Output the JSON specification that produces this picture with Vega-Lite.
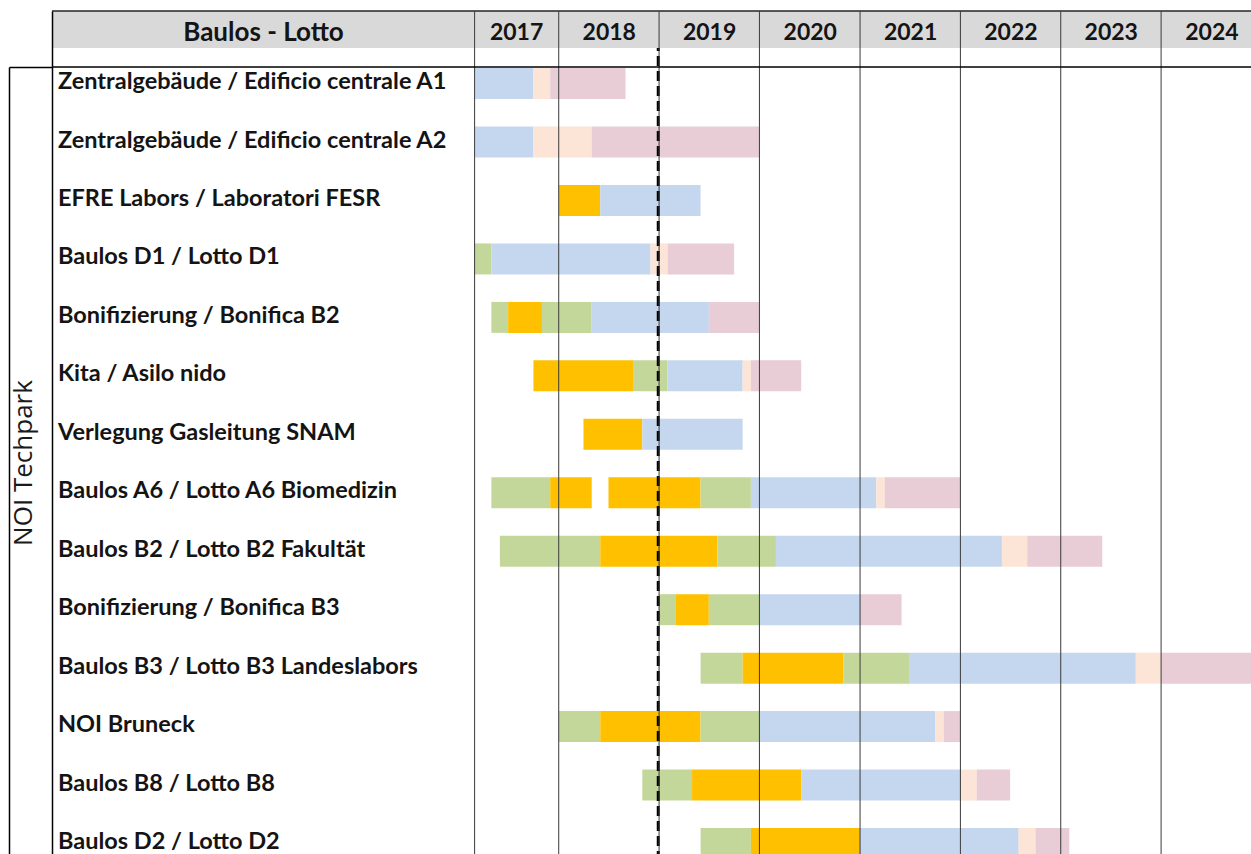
{
  "$schema": "https://vega.github.io/schema/vega-lite/v6.json",
  "autosize": {"type": "none"},
  "padding": {"left": 52, "top": 11, "right": 0, "bottom": 0},
  "width": 1199,
  "height": 843,
  "background": "white",
  "config": {"view": {"stroke": null}},
  "datasets": {
    "phasen": [
      {"baulos": "Zentralgebäude  / Edificio centrale A1", "phase": "Bauausführung", "beginn": "2017-03-01", "ende": "2017-10-01"},
      {"baulos": "Zentralgebäude  / Edificio centrale A1", "phase": "Abnahme", "beginn": "2017-10-01", "ende": "2017-12-01"},
      {"baulos": "Zentralgebäude  / Edificio centrale A1", "phase": "Übergabe", "beginn": "2017-12-01", "ende": "2018-09-01"},
      {"baulos": "Zentralgebäude / Edificio centrale A2", "phase": "Bauausführung", "beginn": "2017-03-01", "ende": "2017-10-01"},
      {"baulos": "Zentralgebäude / Edificio centrale A2", "phase": "Abnahme", "beginn": "2017-10-01", "ende": "2018-05-01"},
      {"baulos": "Zentralgebäude / Edificio centrale A2", "phase": "Übergabe", "beginn": "2018-05-01", "ende": "2020-01-01"},
      {"baulos": "EFRE Labors / Laboratori FESR", "phase": "Ausschreibung", "beginn": "2018-01-01", "ende": "2018-06-01"},
      {"baulos": "EFRE Labors / Laboratori FESR", "phase": "Bauausführung", "beginn": "2018-06-01", "ende": "2019-06-01"},
      {"baulos": "Baulos D1 / Lotto D1", "phase": "Planung", "beginn": "2017-03-01", "ende": "2017-05-01"},
      {"baulos": "Baulos D1 / Lotto D1", "phase": "Bauausführung", "beginn": "2017-05-01", "ende": "2018-12-01"},
      {"baulos": "Baulos D1 / Lotto D1", "phase": "Abnahme", "beginn": "2018-12-01", "ende": "2019-02-01"},
      {"baulos": "Baulos D1 / Lotto D1", "phase": "Übergabe", "beginn": "2019-02-01", "ende": "2019-10-01"},
      {"baulos": "Bonifizierung / Bonifica B2", "phase": "Planung", "beginn": "2017-05-01", "ende": "2017-07-01"},
      {"baulos": "Bonifizierung / Bonifica B2", "phase": "Ausschreibung", "beginn": "2017-07-01", "ende": "2017-11-01"},
      {"baulos": "Bonifizierung / Bonifica B2", "phase": "Planung", "beginn": "2017-11-01", "ende": "2018-05-01"},
      {"baulos": "Bonifizierung / Bonifica B2", "phase": "Bauausführung", "beginn": "2018-05-01", "ende": "2019-07-01"},
      {"baulos": "Bonifizierung / Bonifica B2", "phase": "Übergabe", "beginn": "2019-07-01", "ende": "2020-01-01"},
      {"baulos": "Kita / Asilo nido", "phase": "Ausschreibung", "beginn": "2017-10-01", "ende": "2018-10-01"},
      {"baulos": "Kita / Asilo nido", "phase": "Planung", "beginn": "2018-10-01", "ende": "2019-02-01"},
      {"baulos": "Kita / Asilo nido", "phase": "Bauausführung", "beginn": "2019-02-01", "ende": "2019-11-01"},
      {"baulos": "Kita / Asilo nido", "phase": "Abnahme", "beginn": "2019-11-01", "ende": "2019-12-01"},
      {"baulos": "Kita / Asilo nido", "phase": "Übergabe", "beginn": "2019-12-01", "ende": "2020-06-01"},
      {"baulos": "Verlegung Gasleitung SNAM", "phase": "Ausschreibung", "beginn": "2018-04-01", "ende": "2018-11-01"},
      {"baulos": "Verlegung Gasleitung SNAM", "phase": "Bauausführung", "beginn": "2018-11-01", "ende": "2019-11-01"},
      {"baulos": "Baulos A6 / Lotto A6 Biomedizin", "phase": "Planung", "beginn": "2017-05-01", "ende": "2017-12-01"},
      {"baulos": "Baulos A6 / Lotto A6 Biomedizin", "phase": "Ausschreibung", "beginn": "2017-12-01", "ende": "2018-05-01"},
      {"baulos": "Baulos A6 / Lotto A6 Biomedizin", "phase": "Ausschreibung", "beginn": "2018-07-01", "ende": "2019-06-01"},
      {"baulos": "Baulos A6 / Lotto A6 Biomedizin", "phase": "Planung", "beginn": "2019-06-01", "ende": "2019-12-01"},
      {"baulos": "Baulos A6 / Lotto A6 Biomedizin", "phase": "Bauausführung", "beginn": "2019-12-01", "ende": "2021-03-01"},
      {"baulos": "Baulos A6 / Lotto A6 Biomedizin", "phase": "Abnahme", "beginn": "2021-03-01", "ende": "2021-04-01"},
      {"baulos": "Baulos A6 / Lotto A6 Biomedizin", "phase": "Übergabe", "beginn": "2021-04-01", "ende": "2022-01-01"},
      {"baulos": "Baulos B2 / Lotto B2 Fakultät", "phase": "Planung", "beginn": "2017-06-01", "ende": "2018-06-01"},
      {"baulos": "Baulos B2 / Lotto B2 Fakultät", "phase": "Ausschreibung", "beginn": "2018-06-01", "ende": "2019-08-01"},
      {"baulos": "Baulos B2 / Lotto B2 Fakultät", "phase": "Planung", "beginn": "2019-08-01", "ende": "2020-03-01"},
      {"baulos": "Baulos B2 / Lotto B2 Fakultät", "phase": "Bauausführung", "beginn": "2020-03-01", "ende": "2022-06-01"},
      {"baulos": "Baulos B2 / Lotto B2 Fakultät", "phase": "Abnahme", "beginn": "2022-06-01", "ende": "2022-09-01"},
      {"baulos": "Baulos B2 / Lotto B2 Fakultät", "phase": "Übergabe", "beginn": "2022-09-01", "ende": "2023-06-01"},
      {"baulos": "Bonifizierung / Bonifica B3", "phase": "Planung", "beginn": "2019-01-01", "ende": "2019-03-01"},
      {"baulos": "Bonifizierung / Bonifica B3", "phase": "Ausschreibung", "beginn": "2019-03-01", "ende": "2019-07-01"},
      {"baulos": "Bonifizierung / Bonifica B3", "phase": "Planung", "beginn": "2019-07-01", "ende": "2020-01-01"},
      {"baulos": "Bonifizierung / Bonifica B3", "phase": "Bauausführung", "beginn": "2020-01-01", "ende": "2021-01-01"},
      {"baulos": "Bonifizierung / Bonifica B3", "phase": "Übergabe", "beginn": "2021-01-01", "ende": "2021-06-01"},
      {"baulos": "Baulos B3 / Lotto B3 Landeslabors", "phase": "Planung", "beginn": "2019-06-01", "ende": "2019-11-01"},
      {"baulos": "Baulos B3 / Lotto B3 Landeslabors", "phase": "Ausschreibung", "beginn": "2019-11-01", "ende": "2020-11-01"},
      {"baulos": "Baulos B3 / Lotto B3 Landeslabors", "phase": "Planung", "beginn": "2020-11-01", "ende": "2021-07-01"},
      {"baulos": "Baulos B3 / Lotto B3 Landeslabors", "phase": "Bauausführung", "beginn": "2021-07-01", "ende": "2023-10-01"},
      {"baulos": "Baulos B3 / Lotto B3 Landeslabors", "phase": "Abnahme", "beginn": "2023-10-01", "ende": "2024-01-01"},
      {"baulos": "Baulos B3 / Lotto B3 Landeslabors", "phase": "Übergabe", "beginn": "2024-01-01", "ende": "2025-01-01"},
      {"baulos": "NOI Bruneck", "phase": "Planung", "beginn": "2018-01-01", "ende": "2018-06-01"},
      {"baulos": "NOI Bruneck", "phase": "Ausschreibung", "beginn": "2018-06-01", "ende": "2019-06-01"},
      {"baulos": "NOI Bruneck", "phase": "Planung", "beginn": "2019-06-01", "ende": "2020-01-01"},
      {"baulos": "NOI Bruneck", "phase": "Bauausführung", "beginn": "2020-01-01", "ende": "2021-10-01"},
      {"baulos": "NOI Bruneck", "phase": "Abnahme", "beginn": "2021-10-01", "ende": "2021-11-01"},
      {"baulos": "NOI Bruneck", "phase": "Übergabe", "beginn": "2021-11-01", "ende": "2022-01-01"},
      {"baulos": "Baulos B8 / Lotto B8", "phase": "Planung", "beginn": "2018-11-01", "ende": "2019-05-01"},
      {"baulos": "Baulos B8 / Lotto B8", "phase": "Ausschreibung", "beginn": "2019-05-01", "ende": "2020-06-01"},
      {"baulos": "Baulos B8 / Lotto B8", "phase": "Bauausführung", "beginn": "2020-06-01", "ende": "2022-01-01"},
      {"baulos": "Baulos B8 / Lotto B8", "phase": "Abnahme", "beginn": "2022-01-01", "ende": "2022-03-01"},
      {"baulos": "Baulos B8 / Lotto B8", "phase": "Übergabe", "beginn": "2022-03-01", "ende": "2022-07-01"},
      {"baulos": "Baulos D2 / Lotto D2", "phase": "Planung", "beginn": "2019-06-01", "ende": "2019-12-01"},
      {"baulos": "Baulos D2 / Lotto D2", "phase": "Ausschreibung", "beginn": "2019-12-01", "ende": "2021-01-01"},
      {"baulos": "Baulos D2 / Lotto D2", "phase": "Bauausführung", "beginn": "2021-01-01", "ende": "2022-08-01"},
      {"baulos": "Baulos D2 / Lotto D2", "phase": "Abnahme", "beginn": "2022-08-01", "ende": "2022-10-01"},
      {"baulos": "Baulos D2 / Lotto D2", "phase": "Übergabe", "beginn": "2022-10-01", "ende": "2023-02-01"}
    ],
    "jahre": [
      {"jahr": "2017", "beginn": "2017-03-01"},
      {"jahr": "2018", "beginn": "2018-01-01"},
      {"jahr": "2019", "beginn": "2019-01-01"},
      {"jahr": "2020", "beginn": "2020-01-01"},
      {"jahr": "2021", "beginn": "2021-01-01"},
      {"jahr": "2022", "beginn": "2022-01-01"},
      {"jahr": "2023", "beginn": "2023-01-01"},
      {"jahr": "2024", "beginn": "2024-01-01"}
    ],
    "kopf": [{"kopf": "Baulos - Lotto"}],
    "bereich": [{"bereich": "NOI Techpark"}],
    "stichtag": [{"beginn": "2018-12-29"}]
  },
  "resolve": {"scale": {"y": "independent"}, "axis": {"y": "independent"}},
  "encoding": {
    "x": {
      "field": "beginn", "type": "temporal", "title": null,
      "scale": {
        "domain": [{"year": 2017, "month": 3, "date": 1, "utc": true}, {"year": 2024, "month": 11, "date": 23, "utc": true}],
        "range": [422.6, 1199]
      },
      "axis": {
        "orient": "top", "offset": 0, "zindex": 1,
        "domain": false, "ticks": false, "grid": false,
        "values": [
          {"year": 2017, "month": 7, "date": 30, "utc": true},
          {"year": 2018, "month": 7, "date": 2, "utc": true},
          {"year": 2019, "month": 7, "date": 2, "utc": true},
          {"year": 2020, "month": 7, "date": 2, "utc": true},
          {"year": 2021, "month": 7, "date": 2, "utc": true},
          {"year": 2022, "month": 7, "date": 2, "utc": true},
          {"year": 2023, "month": 7, "date": 2, "utc": true},
          {"year": 2024, "month": 7, "date": 2, "utc": true}
        ],
        "labelExpr": "utcFormat(datum.value, '%Y')",
        "labelAlign": "center", "labelBaseline": "middle", "labelPadding": -21.3,
        "labelFont": "Lato", "labelFontSize": 23, "labelFontWeight": "bold", "labelColor": "#141414",
        "labelOverlap": false, "labelFlush": false, "title": null
      }
    }
  },
  "layer": [
    {
      "data": {"name": "phasen"},
      "mark": {"type": "bar"},
      "encoding": {
        "y": {
          "field": "baulos", "type": "nominal", "sort": null,
          "scale": {"range": [0, 848], "paddingInner": 0.4697, "paddingOuter": 0.4879, "align": 1},
          "axis": {
            "orient": "left", "offset": 0, "zindex": 1,
            "domain": true, "domainColor": "#000000", "domainWidth": 1.5,
            "ticks": false, "grid": false,
            "labelAlign": "left", "labelBaseline": "middle", "labelPadding": -5.5, "labelOffset": -1.5,
            "labelFont": "Lato", "labelFontSize": 23.5, "labelFontWeight": "bold", "labelColor": "#141414",
            "labelLimit": 0, "labelOverlap": false,
            "title": "Baulos - Lotto", "titleAngle": 0, "titleX": 211, "titleY": 21.4,
            "titleAlign": "center", "titleBaseline": "middle",
            "titleFont": "Lato", "titleFontSize": 26, "titleFontWeight": "bold", "titleColor": "#141414"
          }
        },
        "x2": {"field": "ende"},
        "color": {
          "field": "phase", "type": "nominal",
          "scale": {
            "domain": ["Planung", "Ausschreibung", "Bauausführung", "Abnahme", "Übergabe"],
            "range": ["#C4D79B", "#FFC000", "#C5D7EF", "#FCE4D6", "#E8CDD6"]
          },
          "legend": null
        }
      }
    },
    {
      "data": {"name": "stichtag"},
      "mark": {"type": "rule", "color": "#000000", "strokeWidth": 3, "strokeDash": [10, 5]}
    },
    {
      "data": {"name": "kopf"},
      "mark": {"type": "rect", "fill": "#D9D9D9", "stroke": "#262626", "strokeWidth": 1.5, "strokeDash": [1199, 4000]},
      "encoding": {
        "x": null,
        "y": {"field": "kopf", "type": "nominal", "scale": {"range": [0, 37], "paddingInner": 0, "paddingOuter": 0}, "axis": null}
      }
    },
    {
      "data": {"name": "jahre"},
      "mark": {"type": "rule", "color": "#3A3A3A", "strokeWidth": 1}
    },
    {
      "data": {"name": "bereich"},
      "mark": {"type": "rule", "color": "#000000", "strokeWidth": 1.5},
      "encoding": {
        "x": null,
        "y": {
          "field": "bereich", "type": "nominal", "bandPosition": 0,
          "scale": {"range": [56, 848], "paddingInner": 0, "paddingOuter": 0},
          "axis": {
            "orient": "left", "offset": 43, "zindex": 1,
            "domain": true, "domainColor": "#000000", "domainWidth": 1.5,
            "ticks": true, "tickSize": -43, "tickColor": "#000000", "tickWidth": 1.5, "bandPosition": 0,
            "grid": false,
            "labelAngle": -90, "labelAlign": "center", "labelBaseline": "middle", "labelPadding": 29,
            "labelFont": "Open Sans", "labelFontSize": 26, "labelColor": "#1a1a1a", "labelLimit": 0,
            "title": null
          }
        }
      }
    }
  ]
}
